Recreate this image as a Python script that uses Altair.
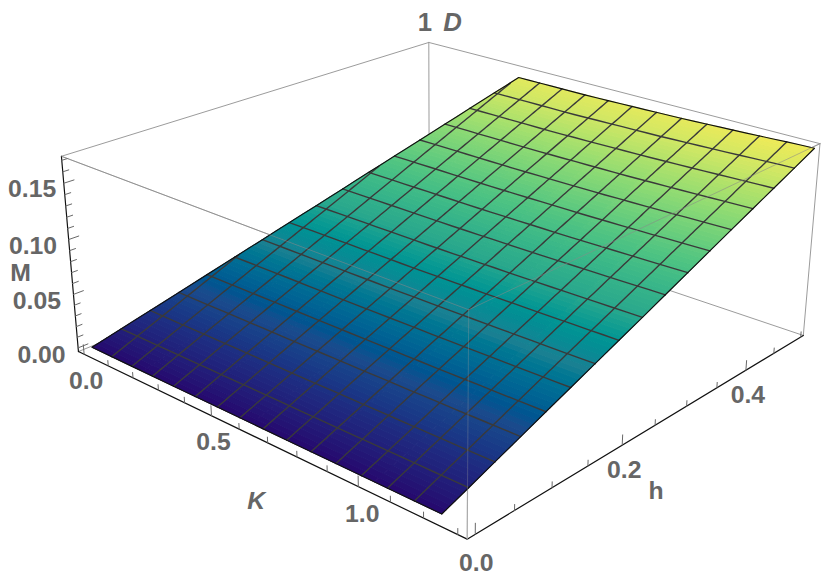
import numpy as np
import altair as alt

# ---- values ----
H_NODES = [0, 0.0625, 0.125, 0.1875, 0.25, 0.3125, 0.375, 0.4375, 0.5]
K_NODES = [0, 0.3, 0.6, 0.9, 1.1, 1.3]
M_ROWS = [
    [0, 0, 0, 0, 0, 0],
    [.0204, .0205, .0205, .0207, .0209, .0212],
    [.0408, .0409, .0410, .0414, .0419, .0425],
    [.0612, .0614, .0614, .0621, .0628, .0637],
    [.0816, .0818, .0819, .0828, .0838, .0850],
    [.1020, .1023, .1024, .1034, .1047, .1062],
    [.1224, .1227, .1229, .1241, .1256, .1275],
    [.1428, .1432, .1433, .1448, .1466, .1487],
    [.1632, .1636, .1638, .1655, .1675, .1700],
]
EDGE_H = [0, 0.125, 0.25, 0.375, 0.5]
EDGE_K_LEFT = [0, 0.085, 0.17, 0.255, 0.34]
EDGE_K_RIGHT = [1.23, 1.252, 1.275, 1.297, 1.32]
MESH_K0 = [1.23 * i / 15 for i in range(1, 15)]
MESH_H = [i / 32 for i in range(1, 16)]

K_BOX = (-0.024, 1.327)
H_BOX = (-0.01, 0.505)
M_BOX = (-0.0035, 0.1735)

K_TICKS_MINOR = [round(0.1 * i, 1) for i in range(0, 14)]
K_TICKS_MAJOR = [0.0, 0.5, 1.0]
H_TICKS_MINOR = [round(0.05 * i, 2) for i in range(0, 11)]
H_TICKS_MAJOR = [0.0, 0.2, 0.4]
M_TICKS_MINOR = [round(0.01 * i, 2) for i in range(0, 18)]
M_TICKS_MAJOR = [0.0, 0.05, 0.10, 0.15]

COLOR_M = [0, 0.017, 0.034, 0.06, 0.085, 0.11, 0.135, 0.155, 0.17]
COLOR_HEX = ["#26076e", "#1f2a80", "#1b4a8c", "#1a7f92", "#2aa88c", "#50c482", "#93dc72", "#cfe765", "#f0ea58"]

TEXT_COLOR = "#666666"
FONT = "Liberation Sans"

# ---- camera: box corners (K, h, M) seen at page pixels ----
lo_k, hi_k = K_BOX
lo_h, hi_h = H_BOX
lo_m, hi_m = M_BOX
CAMERA_ANCHORS = [
    ((lo_k, lo_h, lo_m), (79, 352)),
    ((lo_k, lo_h, hi_m), (62, 155)),
    ((hi_k, lo_h, lo_m), (472, 541.5)),
    ((hi_k, lo_h, hi_m), (473, 310)),
    ((hi_k, hi_h, lo_m), (811, 336)),
    ((hi_k, hi_h, hi_m), (828, 142)),
    ((lo_k, hi_h, hi_m), (433, 40)),
]


def norm(k, h, m):
    return ((k - lo_k) / (hi_k - lo_k), (h - lo_h) / (hi_h - lo_h), (m - lo_m) / (hi_m - lo_m))


rows = []
rhs = []
for (p, (px, py)) in CAMERA_ANCHORS:
    u, v, w = norm(*p)
    rows.append([u, v, w, 1, 0, 0, 0, 0, -px * u, -px * v, -px * w])
    rhs.append(px)
    rows.append([0, 0, 0, 0, u, v, w, 1, -py * u, -py * v, -py * w])
    rhs.append(py)
CAM = np.linalg.lstsq(np.array(rows, float), np.array(rhs, float), rcond=None)[0]


def project(k, h, m, dx=0.0, dy=0.0):
    u, v, w = norm(k, h, m)
    d = CAM[8] * u + CAM[9] * v + CAM[10] * w + 1
    x = (CAM[0] * u + CAM[1] * v + CAM[2] * w + CAM[3]) / d
    y = (CAM[4] * u + CAM[5] * v + CAM[6] * w + CAM[7]) / d
    return [round(float(x - 8 + dx), 2), round(float(y - 8 + dy), 2)]


M_GRID = np.array(M_ROWS)


def m_at(k, h):
    col = np.array([np.interp(k, K_NODES, M_GRID[i]) for i in range(len(H_NODES))])
    return float(np.interp(h, H_NODES, col))


def k_left(h):
    return float(np.interp(h, EDGE_H, EDGE_K_LEFT))


def k_right(h):
    return float(np.interp(h, EDGE_H, EDGE_K_RIGHT))


def surf(k, h):
    return project(k, h, m_at(k, h))


# ---- surface polygons ----
quads = []
TS = np.linspace(0, 0.5, 97)
SS = np.linspace(0, 1, 7)
for t0, t1 in zip(TS[:-1], TS[1:]):
    for s0, s1 in zip(SS[:-1], SS[1:]):
        def pt(s, t):
            kk = k_left(t) + s * (k_right(t) - k_left(t))
            return surf(kk, t)
        tm = (t0 + t1) / 2
        km = k_left(tm) + (s0 + s1) / 2 * (k_right(tm) - k_left(tm))
        quads.append({
            "type": "Feature",
            "properties": {"M": m_at(km, tm)},
            "geometry": {"type": "Polygon", "coordinates": [[pt(s0, t0), pt(s1, t0), pt(s1, t1), pt(s0, t1), pt(s0, t0)]]},
        })


def line_feature(coords):
    return {"type": "Feature", "properties": {}, "geometry": {"type": "LineString", "coordinates": coords}}


# ---- mesh ----
mesh = []
for h in MESH_H:
    mesh.append(line_feature([surf(k_left(h) + s * (k_right(h) - k_left(h)), h) for s in np.linspace(0, 1, 25)]))
H_FINE = np.linspace(0, 0.5, 129)
for k0 in MESH_K0:
    pts = []
    for h in H_FINE:
        k = k0 + k_right(h) - k_right(0)
        if k >= k_left(h):
            pts.append(surf(k, float(h)))
    if len(pts) > 1:
        mesh.append(line_feature(pts))

edge = [surf(k_left(0) + s * (k_right(0) - k_left(0)), 0) for s in np.linspace(0, 1, 9)]
edge += [surf(k_right(h), h) for h in np.linspace(0, 0.5, 17)]
edge += [surf(k_left(0.5) + s * (k_right(0.5) - k_left(0.5)), 0.5) for s in np.linspace(1, 0, 25)]
edge += [surf(k_left(h), h) for h in np.linspace(0.5, 0, 33)]
edges = [line_feature(edge)]

# ---- box ----
A0 = (lo_k, lo_h, lo_m); At = (lo_k, lo_h, hi_m)
B0 = (hi_k, lo_h, lo_m); Bt = (hi_k, lo_h, hi_m)
C0 = (lo_k, hi_h, lo_m); Ct = (lo_k, hi_h, hi_m)
D0 = (hi_k, hi_h, lo_m); Dt = (hi_k, hi_h, hi_m)


def seg(a, b):
    return line_feature([project(*a), project(*b)])


box_back = [seg(At, Ct), seg(Ct, Dt), seg(Ct, C0), seg(D0, C0), seg(C0, A0), seg(Dt, D0), seg(At, Bt), seg(Bt, Dt)]
box_front = [seg(At, Bt), seg(Bt, Dt)]
box_vertical = [seg(Bt, B0)]
axes = [seg(A0, B0), seg(B0, D0), seg(A0, At)]

ticks_minor, ticks_major = [], []
for k in K_TICKS_MINOR:
    major = k in K_TICKS_MAJOR
    (ticks_major if major else ticks_minor).append(seg((k, lo_h, lo_m), (k, lo_h, lo_m + (0.009 if major else 0.005))))
for h in H_TICKS_MINOR:
    major = h in H_TICKS_MAJOR
    (ticks_major if major else ticks_minor).append(seg((hi_k, h, lo_m), (hi_k, h, lo_m + (0.009 if major else 0.005))))
for m in M_TICKS_MINOR:
    major = m in M_TICKS_MAJOR
    (ticks_major if major else ticks_minor).append(seg((lo_k, lo_h, m), (lo_k, lo_h + (0.012 if major else 0.007), m)))

# ---- text ----
labels = []
for k, dx, dy in zip(K_TICKS_MAJOR, [2, 2, 4], [27, 27, 28]):
    x, y = project(k, lo_h, lo_m, dx, dy)
    labels.append({"x": x, "y": y, "t": f"{k:.1f}"})
for h, dx, dy in zip(H_TICKS_MAJOR, [1, 2, 2], [29, 25, 25]):
    x, y = project(hi_k, h, lo_m, dx, dy)
    labels.append({"x": x, "y": y, "t": f"{h:.1f}"})
for m, dx, dy in zip(M_TICKS_MAJOR, [-37, -37, -36, -32], [7, 7, 7, 6]):
    x, y = project(lo_k, lo_h, m, dx, dy)
    labels.append({"x": x, "y": y, "t": f"{m:.2f}"})
x, y = project(lo_k, lo_h, 0.085, -50, 17)
labels.append({"x": x, "y": y, "t": "M"})
x, y = project(hi_k, 0.25, lo_m, 1, 66)
labels.append({"x": x, "y": y, "t": "h"})
x, y = project(*Ct, -4, -20)
labels_big = [{"x": x, "y": y, "t": "1"}]
x, y = project(*Ct, 24, -20)
labels_big_i = [{"x": x, "y": y, "t": "D"}]
x, y = project(0.65, lo_h, lo_m, 3, 66)
labels_i = [{"x": x, "y": y, "t": "K"}]

PROJ = {"type": "identity", "scale": 1, "translate": [0, 0]}


def lines(features, color, width, opacity=1.0):
    return alt.Chart(alt.Data(values=features)).mark_geoshape(
        filled=False, stroke=color, strokeWidth=width, strokeOpacity=opacity, strokeCap="round", strokeJoin="round"
    ).project(**PROJ)


def text(rows_, size, style="normal"):
    return alt.Chart(alt.Data(values=rows_)).mark_text(
        font=FONT, fontSize=size, fontWeight="bold", fontStyle=style, color=TEXT_COLOR, align="center", baseline="middle"
    ).encode(longitude="x:Q", latitude="y:Q", text="t:N").project(**PROJ)


color_scale = alt.Scale(domain=COLOR_M, range=COLOR_HEX, clamp=True)
surface = alt.Chart(alt.Data(values=quads)).mark_geoshape(strokeWidth=1).encode(
    fill=alt.Color("properties.M:Q", scale=color_scale, legend=None),
    stroke=alt.Color("properties.M:Q", scale=color_scale, legend=None),
).project(**PROJ)

chart = alt.layer(
    lines(box_back, "#9a9a9a", 1),
    lines(axes, "#111111", 1.2),
    lines(box_vertical, "#b0b0b0", 1.2),
    lines(ticks_minor, "#666666", 1),
    lines(ticks_major, "#666666", 1),
    surface,
    lines(mesh, "#3a3a3a", 1.4),
    lines(edges, "#111111", 1.2),
    lines(box_front, "#888888", 1, 0.55),
    lines(box_vertical, "#9a9a9a", 1, 0.35),
    text(labels, 25),
    text(labels_i, 25, "italic"),
    text(labels_big, 26),
    text(labels_big_i, 26, "italic"),
).properties(
    width=822, height=573, padding=0, autosize=alt.AutoSizeParams(type="none")
).configure_view(stroke=None).resolve_scale(fill="shared", stroke="shared")

chart.save("out.html", embed_options={"renderer": "svg", "actions": False})
